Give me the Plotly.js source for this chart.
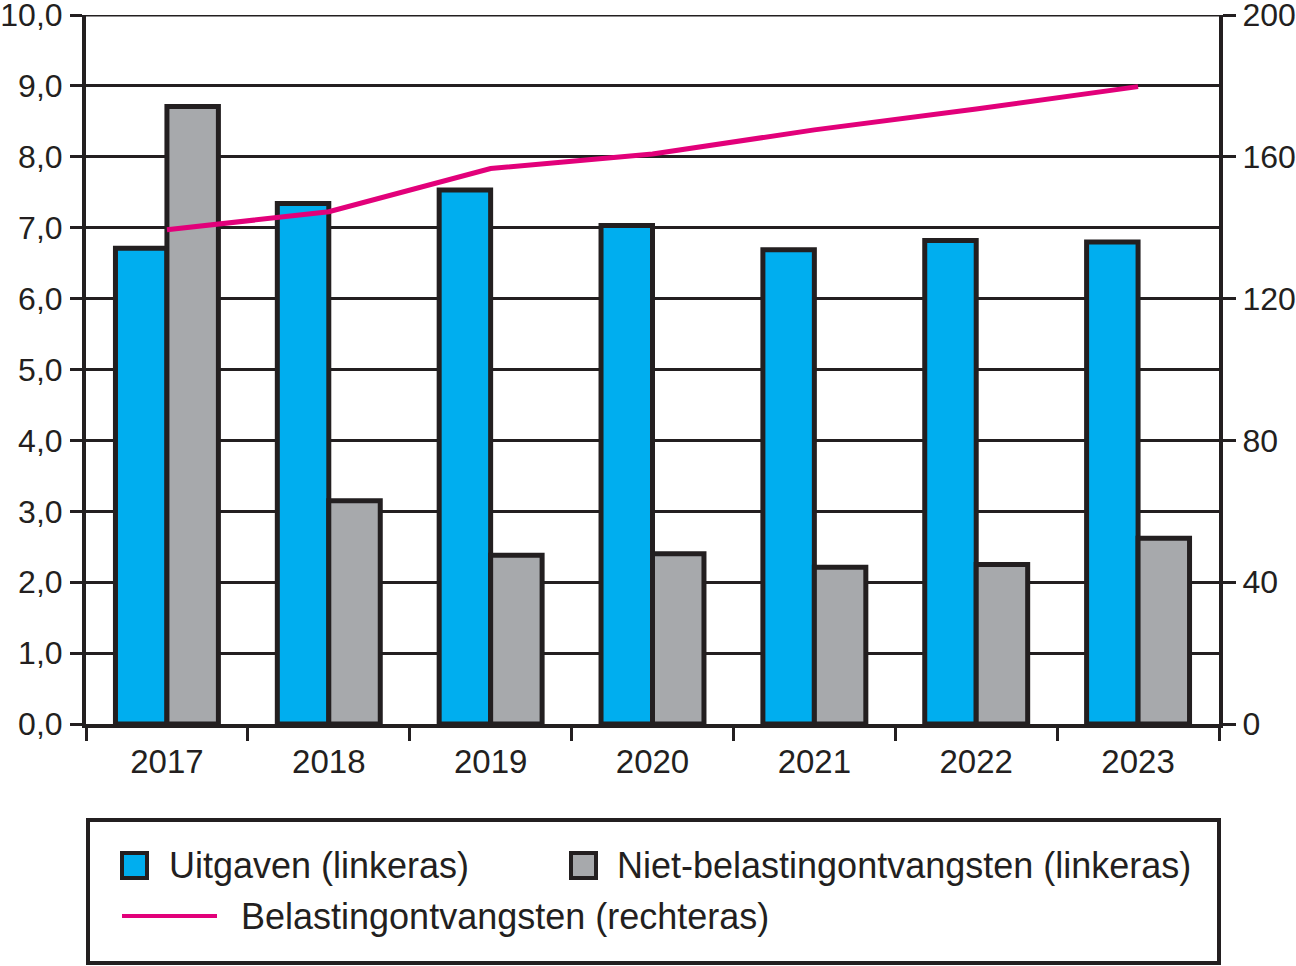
<!DOCTYPE html>
<html>
<head>
<meta charset="utf-8">
<script src="https://cdn.plot.ly/plotly-3.0.1.min.js"></script>
<style>
  html, body { margin: 0; padding: 0; background: #ffffff; }
  #chart { width: 1296px; height: 966px; }
</style>
</head>
<body>
<div id="chart"></div>
<script>
// ---- data ----
const years = ['2017', '2018', '2019', '2020', '2021', '2022', '2023'];
const uitgaven = [6.71, 7.34, 7.53, 7.03, 6.69, 6.82, 6.80];
const nietBelasting = [8.71, 3.15, 2.38, 2.40, 2.21, 2.25, 2.62];
const belasting = [139.4, 144.5, 156.7, 160.8, 167.6, 173.5, 179.8];

const nameUitgaven = 'Uitgaven (linkeras)';
const nameNietBelasting = 'Niet-belastingontvangsten (linkeras)';
const nameBelasting = 'Belastingontvangsten (rechteras)';

const leftMax = 10;
const rightMax = 200;

// ---- styles ----
const INK = '#231F20';
const BLUE = '#00AEEF';
const GREY = '#A7A9AC';
const MAGENTA = '#E2007A';
const FONT = 'Liberation Sans, Arial, sans-serif';

const traces = [
  {
    type: 'bar', x: years, y: uitgaven, name: nameUitgaven,
    marker: { color: BLUE, line: { color: INK, width: 5 } },
    showlegend: false, hoverinfo: 'skip'
  },
  {
    type: 'bar', x: years, y: nietBelasting, name: nameNietBelasting,
    marker: { color: GREY, line: { color: INK, width: 5 } },
    showlegend: false, hoverinfo: 'skip'
  },
  {
    type: 'scatter', mode: 'lines', x: years, y: belasting, yaxis: 'y2',
    name: nameBelasting,
    line: { color: MAGENTA, width: 5 },
    showlegend: false, hoverinfo: 'skip'
  }
];

// legend helpers (paper coordinates of the plot area: x 86..1219, y 15..724 px)
const W = 1133, H = 709, L = 86, B = 724;
const px = v => (v - L) / W;
const py = v => (B - v) / H;

const shapes = [
  // top gridline at the axis maximum (Plotly clips gridlines at range ends)
  { type: 'line', xref: 'paper', yref: 'y', x0: 0, x1: 1, y0: leftMax, y1: leftMax,
    line: { color: INK, width: 3 }, layer: 'below' },
  // legend box and keys
  { type: 'rect', xref: 'paper', yref: 'paper', x0: px(88), x1: px(1219), y0: py(820), y1: py(963),
    line: { color: INK, width: 4 }, fillcolor: 'rgba(0,0,0,0)' },
  { type: 'rect', xref: 'paper', yref: 'paper', x0: px(122), x1: px(147), y0: py(853), y1: py(878),
    line: { color: INK, width: 4 }, fillcolor: BLUE },
  { type: 'rect', xref: 'paper', yref: 'paper', x0: px(571), x1: px(596), y0: py(853), y1: py(878),
    line: { color: INK, width: 4 }, fillcolor: GREY },
  { type: 'line', xref: 'paper', yref: 'paper', x0: px(122), x1: px(217), y0: py(916), y1: py(916),
    line: { color: MAGENTA, width: 4 } }
];

const legFont = { family: FONT, size: 36, color: INK };
const annotations = [
  { xref: 'paper', yref: 'paper', x: px(167), y: py(866), xanchor: 'left', yanchor: 'middle',
    text: nameUitgaven, showarrow: false, font: legFont },
  { xref: 'paper', yref: 'paper', x: px(615), y: py(866), xanchor: 'left', yanchor: 'middle',
    text: nameNietBelasting, showarrow: false, font: legFont },
  { xref: 'paper', yref: 'paper', x: px(239), y: py(916), xanchor: 'left', yanchor: 'middle',
    text: nameBelasting, showarrow: false, font: legFont }
];

const tickFont = { family: FONT, size: 32, color: INK };

const layout = {
  width: 1296, height: 966,
  margin: { l: 86, r: 77, t: 15, b: 242, pad: 0 },
  paper_bgcolor: '#ffffff', plot_bgcolor: '#ffffff',
  separators: ', ',
  barmode: 'group', bargap: 0.364, bargroupgap: 0,
  showlegend: false,
  font: { family: FONT, color: INK },
  xaxis: {
    type: 'category', tickson: 'boundaries',
    ticks: 'outside', ticklen: 13, tickwidth: 3, tickcolor: INK,
    showline: true, linewidth: 4, linecolor: INK,
    showgrid: false, zeroline: false,
    tickfont: { family: FONT, size: 33, color: INK }, ticklabelstandoff: 5
  },
  yaxis: {
    range: [0, leftMax], dtick: 1, tick0: 0, tickformat: '.1f',
    ticks: 'outside', ticklen: 12, tickwidth: 3, tickcolor: INK,
    showline: true, linewidth: 4, linecolor: INK,
    showgrid: true, gridwidth: 3, gridcolor: INK, zeroline: false,
    tickfont: tickFont, ticklabelstandoff: 1, ticklabeloverflow: 'allow', fixedrange: true
  },
  yaxis2: {
    overlaying: 'y', side: 'right',
    range: [0, rightMax], dtick: 40, tick0: 0,
    ticks: 'outside', ticklen: 13, tickwidth: 3, tickcolor: INK,
    showline: true, linewidth: 4, linecolor: INK,
    showgrid: false, zeroline: false,
    tickfont: tickFont, ticklabelstandoff: 0, ticklabeloverflow: 'allow', fixedrange: true
  },
  shapes: shapes,
  annotations: annotations
};

Plotly.newPlot('chart', traces, layout, { staticPlot: true, displayModeBar: false });
</script>
</body>
</html>
